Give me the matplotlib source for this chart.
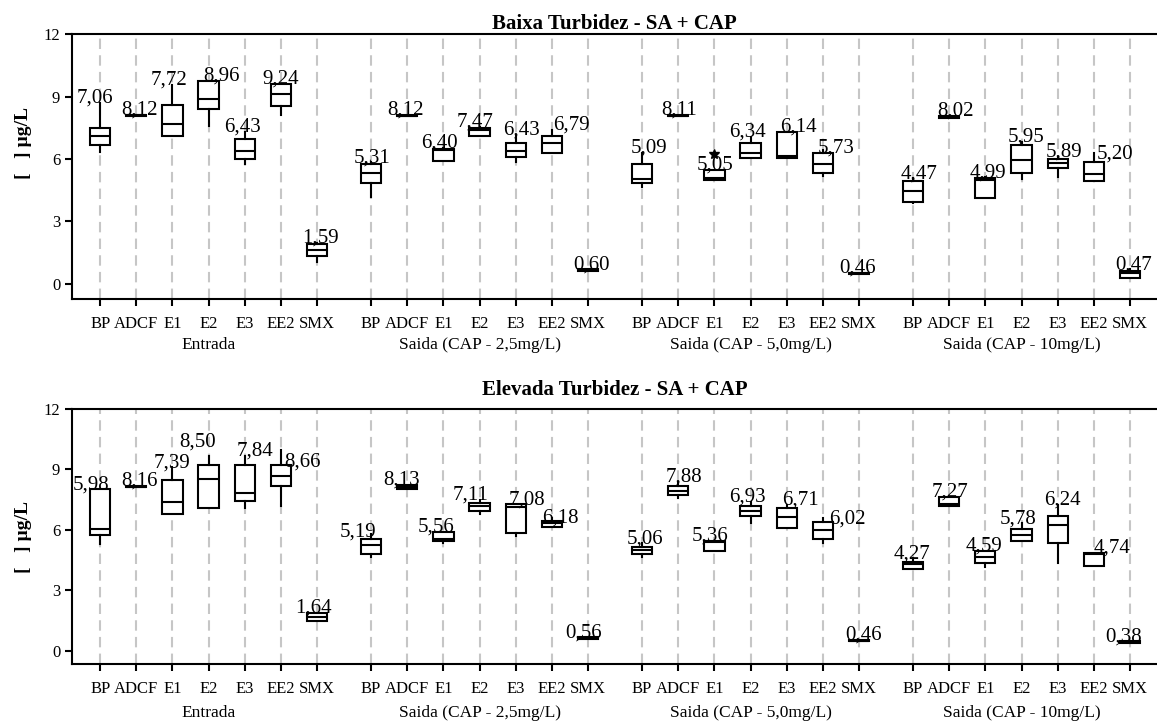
import matplotlib.pyplot as plt
from matplotlib import transforms

plt.rcParams['font.family'] = ['Liberation Serif', 'DejaVu Serif']

compounds = ['BP', 'ADCF', 'E1', 'E2', 'E3', 'EE2', 'SMX']
stages = ['Entrada', 'Saida (CAP - 2,5mg/L)', 'Saida (CAP - 5,0mg/L)',
          'Saida (CAP - 10mg/L)']

# Baixa turbidez - box statistics (4 stages x 7 compounds)
baixa_lo = [6.32, 8.05, 7.10, 7.58, 5.76, 8.11, 1.07,
            4.19, 8.04, 5.92, 7.12, 5.84, 6.27, 0.62,
            4.67, 8.04, 4.99, 6.03, 6.07, 5.20, 0.47,
            3.87, 7.99, 4.11, 5.04, 5.15, 4.94, 0.27]
baixa_q1 = [6.65, 8.05, 7.10, 8.38, 6.02, 8.56, 1.34,
            4.83, 8.04, 5.92, 7.12, 6.11, 6.27, 0.62,
            4.83, 8.04, 4.99, 6.03, 6.07, 5.31, 0.47,
            3.95, 7.99, 4.11, 5.31, 5.58, 4.94, 0.27]
baixa_med = [7.08, 8.09, 7.68, 8.86, 6.40, 9.12, 1.63,
             5.31, 8.08, 6.42, 7.40, 6.40, 6.75, 0.66,
             5.02, 8.08, 5.10, 6.30, 6.12, 5.74, 0.51,
             4.48, 8.03, 5.00, 5.95, 5.82, 5.26, 0.54]
baixa_q3 = [7.51, 8.13, 8.57, 9.76, 6.94, 9.58, 1.90,
            5.76, 8.12, 6.46, 7.50, 6.75, 7.12, 0.70,
            5.76, 8.12, 5.47, 6.75, 7.31, 6.27, 0.55,
            4.96, 8.07, 5.10, 6.67, 5.98, 5.84, 0.64]
baixa_hi = [8.70, 8.13, 9.55, 9.76, 7.31, 9.62, 1.98,
            5.85, 8.12, 6.55, 7.55, 7.15, 7.39, 0.70,
            6.30, 8.12, 5.47, 7.07, 7.31, 6.43, 0.55,
            5.07, 8.07, 5.12, 6.83, 6.11, 6.27, 0.70]
baixa_mean = [7.06, 8.12, 7.72, 8.96, 6.43, 9.24, 1.59,
              5.31, 8.12, 6.40, 7.47, 6.43, 6.79, 0.60,
              5.09, 8.11, 5.05, 6.34, 6.14, 5.73, 0.46,
              4.47, 8.02, 4.99, 5.95, 5.89, 5.20, 0.47]
baixa_outliers = {16: [6.22]}

# Elevada turbidez - box statistics
elevada_lo = [5.29, 8.11, 6.79, 7.07, 7.07, 7.19, 1.50,
              4.65, 8.02, 5.37, 6.79, 5.70, 6.13, 0.59,
              4.68, 7.57, 4.97, 6.33, 6.08, 5.37, 0.47,
              4.05, 7.19, 4.18, 5.45, 4.35, 4.23, 0.39]
elevada_q1 = [5.75, 8.11, 6.79, 7.07, 7.45, 8.20, 1.50,
              4.81, 8.02, 5.45, 6.96, 5.83, 6.13, 0.59,
              4.81, 7.73, 4.97, 6.69, 6.08, 5.55, 0.47,
              4.05, 7.19, 4.35, 5.45, 5.37, 4.23, 0.39]
elevada_med = [6.03, 8.15, 7.37, 8.51, 7.82, 8.68, 1.70,
               5.26, 8.12, 5.54, 7.21, 7.16, 6.33, 0.63,
               5.00, 7.95, 5.39, 6.96, 6.63, 6.00, 0.51,
               4.31, 7.27, 4.68, 5.75, 6.25, 4.80, 0.43]
elevada_q3 = [8.02, 8.19, 8.48, 9.22, 9.22, 9.22, 1.87,
              5.55, 8.23, 5.92, 7.35, 7.27, 6.44, 0.67,
              5.17, 8.20, 5.45, 7.19, 7.07, 6.38, 0.55,
              4.43, 7.65, 4.97, 6.03, 6.69, 4.84, 0.47]
elevada_hi = [8.02, 8.19, 9.11, 9.67, 9.67, 9.97, 1.90,
              5.80, 8.23, 5.92, 7.49, 7.27, 6.58, 0.67,
              5.34, 8.40, 5.47, 7.40, 7.24, 6.58, 0.55,
              4.60, 7.65, 4.97, 6.33, 7.24, 4.87, 0.47]
elevada_mean = [5.98, 8.16, 7.39, 8.50, 7.84, 8.66, 1.64,
                5.19, 8.13, 5.56, 7.11, 7.08, 6.18, 0.56,
                5.06, 7.88, 5.36, 6.93, 6.71, 6.02, 0.46,
                4.27, 7.27, 4.59, 5.78, 6.24, 4.74, 0.38]
elevada_outliers = {}

positions = [g * 7.5 + i for g in range(len(stages)) for i in range(len(compounds))]

# pixel nudges for the mean labels so neighbours don't collide
baixa_nudge_x = [-6, 2, -4, 12, -3, -1, 3,
                 0, -3, -5, -5, 5, 19, 3,
                 6, 0, 0, -4, 11, 12, -2,
                 5, 5, 2, 4, 5, 20, 3]
baixa_nudge_y = {19: -3, 26: -5}
elevada_nudge_x = [-10, 2, -1, -12, 9, 21, -4,
                   -14, -7, -8, -10, 10, 8, -5,
                   2, 5, -5, -4, 13, 24, 4,
                   -2, 0, -2, -4, 4, 17, -7]
elevada_nudge_y = {3: 9, 5: -17, 7: -3, 12: -4, 19: -5}


def draw_panel(ax, title, lo, q1, med, q3, hi, mean, outliers,
               nudge_x, nudge_y, title_pad, ylab_y, lab_off):
    for x in positions:
        ax.axvline(x, color='#c6c6c6', lw=1.5, ls=(0, (5, 3)), zorder=0)

    stats = []
    for k in range(len(positions)):
        stats.append(dict(whislo=lo[k], q1=q1[k], med=med[k], q3=q3[k],
                          whishi=hi[k], fliers=outliers.get(k, [])))
    ax.bxp(stats, positions=positions, widths=0.56, patch_artist=True,
           showcaps=False, manage_ticks=False,
           boxprops=dict(facecolor='white', edgecolor='black', linewidth=1.5),
           medianprops=dict(color='black', linewidth=1.5),
           whiskerprops=dict(color='black', linewidth=1.5),
           flierprops=dict(marker='*', markerfacecolor='black',
                           markeredgecolor='black', markersize=7))

    # mean value written above each box
    for k, (x, m, top) in enumerate(zip(positions, mean, hi)):
        ax.annotate(f'{m:.2f}'.replace('.', ','), xy=(x, top),
                    xytext=(nudge_x[k] + 1, nudge_y.get(k, 0)),
                    textcoords='offset pixels', ha='center', va='baseline',
                    fontsize=15)

    ax.set_xlim(-0.78, 29.25)
    ax.set_yticks([0, 3, 6, 9, 12])
    ax.set_xticks(positions)
    ax.set_xticklabels(compounds * len(stages))
    ax.tick_params(axis='both', direction='out', length=5, width=1.5,
                   labelsize=12)
    ax.tick_params(axis='x', pad=7.5)
    for side in ['top', 'left', 'bottom']:
        ax.spines[side].set_linewidth(1.5)
    ax.spines['right'].set_visible(False)

    trans = transforms.blended_transform_factory(ax.transData, ax.transAxes)
    for g, name in enumerate(stages):
        ax.annotate(name, xy=(g * 7.5 + 3, 0), xycoords=trans,
                    xytext=(0, lab_off), textcoords='offset pixels',
                    ha='center', va='center', fontsize=12.5)

    ax.set_title(title, fontweight='bold', fontsize=15, pad=title_pad)
    ax.set_ylabel('[   ] µg/L', fontweight='bold', fontsize=14)
    ax.yaxis.set_label_coords(-0.037, ylab_y)


fig = plt.figure(figsize=(11.57, 7.22), dpi=100)
ax1 = fig.add_axes([0.0622, 0.5859, 0.9378, 0.3670])
ax2 = fig.add_axes([0.0622, 0.0803, 0.9378, 0.3532])

draw_panel(ax1, 'Baixa Turbidez - SA + CAP', baixa_lo, baixa_q1, baixa_med,
           baixa_q3, baixa_hi, baixa_mean, baixa_outliers,
           baixa_nudge_x, baixa_nudge_y, 2.5, 0.59, -46)
ax1.set_ylim(-0.72, 12)

draw_panel(ax2, 'Elevada Turbidez - SA + CAP', elevada_lo, elevada_q1, elevada_med,
           elevada_q3, elevada_hi, elevada_mean, elevada_outliers,
           elevada_nudge_x, elevada_nudge_y, 10, 0.5, -49)
ax2.set_ylim(-0.65, 12)

fig.savefig('out.png', dpi=100)
